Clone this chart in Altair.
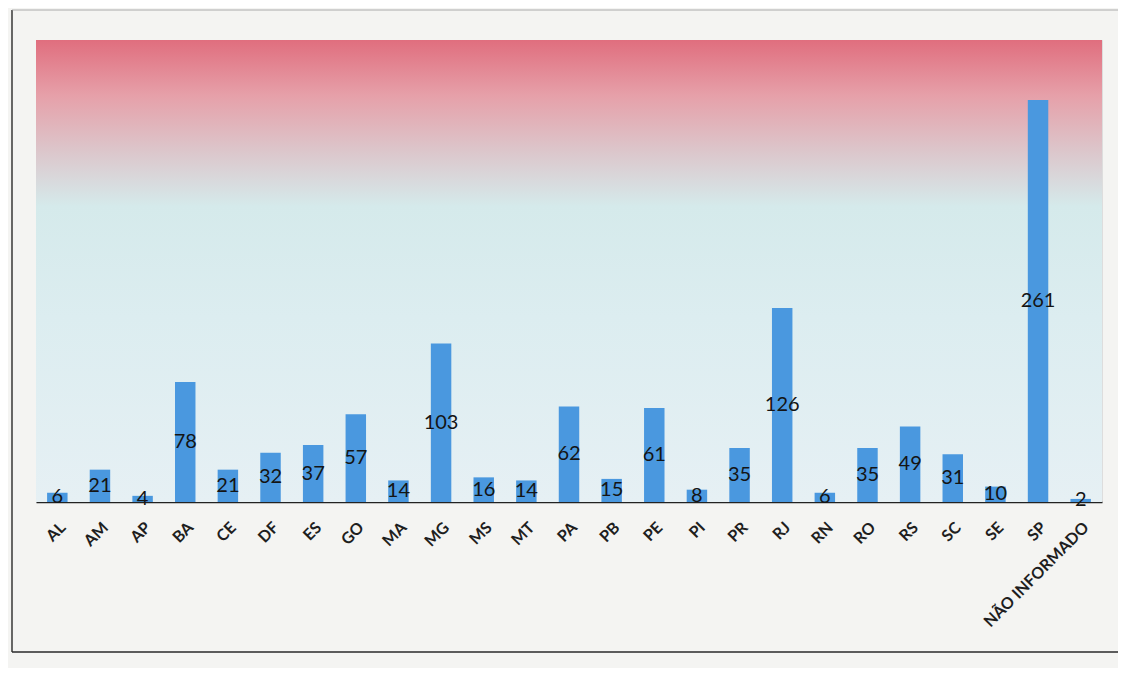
import altair as alt
import pandas as pd

ufs = ["AL", "AM", "AP", "BA", "CE", "DF", "ES", "GO", "MA", "MG", "MS", "MT", "PA",
       "PB", "PE", "PI", "PR", "RJ", "RN", "RO", "RS", "SC", "SE", "SP", "NÃO INFORMADO"]
valores = [6, 21, 4, 78, 21, 32, 37, 57, 14, 103, 16, 14, 62,
           15, 61, 8, 35, 126, 6, 35, 49, 31, 10, 261, 2]

df = pd.DataFrame({"uf": ufs, "valor": valores})

W = 1066
H = 462

um = pd.DataFrame({"a": [0]})

fundo = alt.Chart(um).mark_rect(
    color=alt.Gradient(
        gradient="linear",
        x1=0, x2=0, y1=0, y2=1,
        stops=[
            alt.GradientStop(offset=0, color="#e06e7e"),
            alt.GradientStop(offset=0.12, color="#e6a0a9"),
            alt.GradientStop(offset=0.24, color="#dcc6cb"),
            alt.GradientStop(offset=0.36, color="#d5eaeb"),
            alt.GradientStop(offset=0.6, color="#dcedf0"),
            alt.GradientStop(offset=1, color="#e6f0f4"),
        ],
    )
).encode(x=alt.value(0), x2=alt.value(W), y=alt.value(0), y2=alt.value(H))

linha_esq = alt.Chart(um).mark_rule(color="#2a2a2a", strokeWidth=1.4).encode(
    x=alt.value(-24), y=alt.value(-30), y2=alt.value(H + 150))
linha_topo = alt.Chart(um).mark_rule(color="#9a9a9a", strokeWidth=0.8).encode(
    x=alt.value(-24), x2=alt.value(W + 16), y=alt.value(-30))
linha_base = alt.Chart(um).mark_rule(color="#2a2a2a", strokeWidth=1.4).encode(
    x=alt.value(-24), x2=alt.value(W + 16), y=alt.value(H + 150))

x_enc = alt.X("uf:N", sort=ufs, title=None,
              scale=alt.Scale(paddingInner=0.52, paddingOuter=0.26),
              axis=alt.Axis(labelAngle=-45, labelFontSize=16, labelFont="Lato",
                            labelFontWeight="bold", labelColor="#1e1e1e",
                            ticks=False, domainColor="#222222", domainWidth=1.3,
                            labelPadding=17, grid=False, labelOverlap=False))

barras = alt.Chart(df).mark_bar(color="#4a98df").encode(
    x=x_enc,
    y=alt.Y("valor:Q", scale=alt.Scale(domain=[0, 300]), axis=None),
)

rotulos = alt.Chart(df).transform_calculate(meio="datum.valor / 2").mark_text(
    fontSize=20, font="Lato", color="#141414", baseline="middle"
).encode(
    x=alt.X("uf:N", sort=ufs),
    y=alt.Y("meio:Q", scale=alt.Scale(domain=[0, 300])),
    text="valor:Q",
)

chart = alt.layer(fundo, linha_esq, linha_topo, linha_base, barras, rotulos).properties(
    width=W, height=H,
    autosize=alt.AutoSizeParams(type="none"),
    padding={"left": 28, "top": 32, "right": 16, "bottom": 166},
).configure_view(stroke=None).configure(background="#f4f4f2")

chart.save("out.html", embed_options={"renderer": "svg", "actions": False})
